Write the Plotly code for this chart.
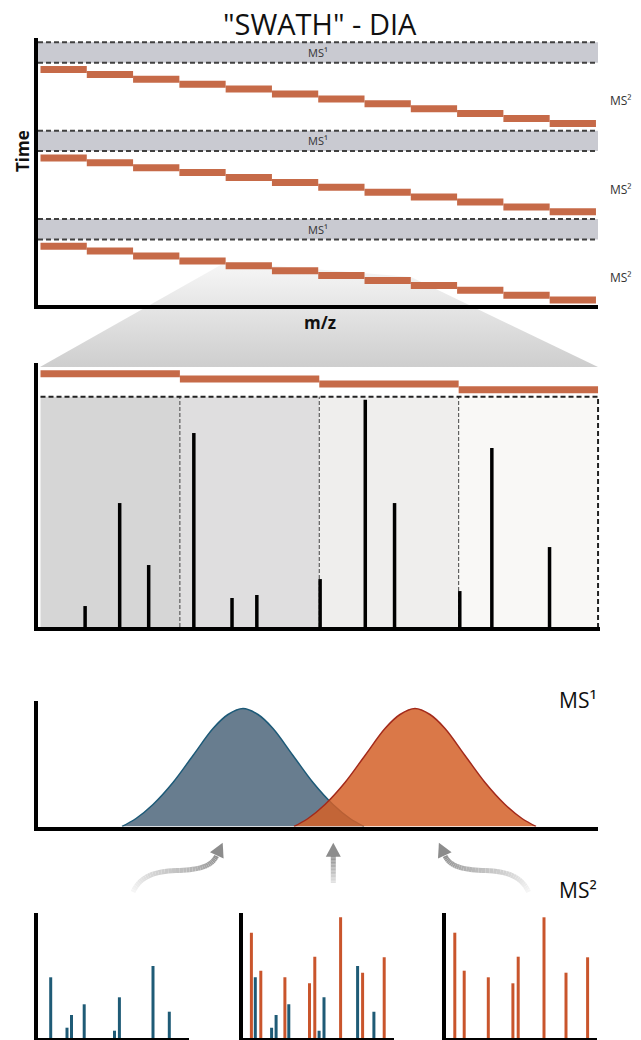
import numpy as np
import plotly.graph_objects as go

W, H = 641, 1040
def fx(px): return px / W
def fy(py): return 1 - py / H

# ---------------- DATA ----------------
# Panel 1: DIA cycle (m/z windows x time)
window_starts = [400, 450, 500, 550, 600, 650, 700, 750, 800, 850, 900, 950]
window_width = 50
cycle_starts = [4.3, 92.7, 181.0]          # MS1 scan start times
ms1_duration = 20.4
ms2_offsets = [27.2, 32.1, 37.0, 41.9, 46.8, 51.7, 56.6, 61.5, 66.4, 71.3, 76.2, 81.1]
ms2_label_offset = 58.5

# Panel 2: zoom on windows 5-8
zoom_windows = [600, 650, 700, 750]
zoom_bar_levels = [109.9, 107.7, 105.5, 103.0]
zoom_window_fill = ['#D6D6D6', '#DFDEDF', '#EFEEED', '#F9F8F6']
frag_mz = [616.0, 628.4, 638.8, 655.0, 668.7, 677.6, 700.3, 716.5, 727.0, 750.4, 761.9, 782.6]
frag_int = [9.1, 53.8, 26.9, 84.2, 12.6, 13.9, 20.8, 98.6, 53.8, 15.6, 77.7, 34.7]

# Panel 3: MS1 elution profiles
blue_rt = [84, 98, 115, 135, 155, 175, 190, 205, 220, 235, 255, 275, 295, 312, 326]
blue_int = [0, 8, 22, 44, 71, 98, 112, 118, 112, 98, 71, 44, 22, 8, 0]
orange_rt = [256, 270, 287, 307, 327, 347, 362, 377, 392, 407, 427, 447, 467, 484, 498]
orange_int = [0, 8, 22, 44, 71, 98, 112, 118, 112, 98, 71, 44, 22, 8, 0]

# Panel 4: MS2 spectra
blue_frag_mz = [12.7, 29.0, 33.5, 46.2, 76.5, 81.4, 115.0, 131.3]
blue_frag_int = [60.7, 10.3, 23.0, 33.7, 7.3, 40.7, 72.0, 26.3]
orange_frag_mz = [8.8, 18.2, 42.3, 66.9, 72.2, 98.0, 120.0, 141.6]
orange_frag_int = [105.3, 67.3, 60.7, 54.7, 81.3, 120.7, 65.3, 80.7]

# ---------------- STYLE ----------------
ORANGE = '#C66A48'
BAND = '#C9CAD1'
DASH = '#404040'
BLUE_FILL = 'rgba(104,125,143,1)'
BLUE_LINE = '#1D5A78'
ORANGE_FILL = 'rgba(212,96,40,0.85)'
ORANGE_LINE = '#A32A1B'
SPEC_BLUE = '#1F5B76'
SPEC_ORANGE = '#C9552C'
FONT = 'Open Sans'

fig = go.Figure()

# ---------------- overlay (decorations) : x / y ----------------
trap_x = [226, 411, 598, 40, 226]
trap_y = [262, 277, 367, 367, 262]
fig.add_trace(go.Scatter(x=trap_x, y=trap_y, xaxis='x', yaxis='y', mode='lines',
                         line=dict(width=0), fill='toself',
                         fillgradient=dict(type='vertical',
                                           colorscale=[[0, '#F7F7F7'], [1, '#CECECE']],
                                           start=262, stop=367),
                         hoverinfo='skip', showlegend=False))

def bez(p0, p1, p2, p3, n=20):
    t = np.linspace(0, 1, n)[:, None]
    p0, p1, p2, p3 = map(np.array, (p0, p1, p2, p3))
    return (1-t)**3*p0 + 3*(1-t)**2*t*p1 + 3*(1-t)*t**2*p2 + t**3*p3

left_path = np.vstack([bez((133, 892), (139, 879), (150, 871.5), (176, 870.5)),
                       bez((176, 870.5), (200, 870), (212, 866), (216.5, 856))[1:]])
right_path = left_path.copy()
right_path[:, 0] = 661.6 - right_path[:, 0]
mid_path = np.column_stack([np.full(20, 333.3), np.linspace(883, 856, 20)])

def draw_shaft(path, c0, c1):
    n = len(path) - 1
    for i in range(n):
        t = i / (n - 1)
        c = int(c0 + (c1 - c0) * t)
        fig.add_trace(go.Scatter(x=path[i:i+2, 0], y=path[i:i+2, 1], xaxis='x', yaxis='y',
                                 mode='lines', line=dict(color=f'rgb({c},{c},{c})', width=5),
                                 hoverinfo='skip', showlegend=False))

def draw_head(tip, ang_deg, length=14, half=7.5):
    a = np.radians(ang_deg)
    d = np.array([np.sin(a), -np.cos(a)])
    p = np.array([np.cos(a), np.sin(a)])
    tip = np.array(tip)
    b = tip - d * length
    pts = [tip, b + p*half, b - p*half, tip]
    fig.add_trace(go.Scatter(x=[q[0] for q in pts], y=[q[1] for q in pts], xaxis='x', yaxis='y',
                             mode='lines', fill='toself', fillcolor='#8C8C8C',
                             line=dict(width=0), hoverinfo='skip', showlegend=False))

draw_shaft(left_path, 245, 145)
draw_shaft(right_path, 245, 145)
draw_shaft(mid_path, 225, 145)
draw_head((222.7, 842.7), 25)
draw_head((661.6 - 222.7, 842.7), -25)
draw_head((333.3, 842.7), 0)

# ---------------- Panel 1 : x2 / y2 ----------------
mz_lo, mz_hi = 397.3, 1002.2
for cs in cycle_starts:
    fig.add_trace(go.Bar(x=[mz_hi - mz_lo], base=[mz_lo], y=[cs + ms1_duration/2], width=ms1_duration,
                         orientation='h', marker=dict(color=BAND, line=dict(width=0)),
                         xaxis='x2', yaxis='y2', hoverinfo='skip', showlegend=False))
    for yy in (cs, cs + ms1_duration):
        fig.add_trace(go.Scatter(x=[mz_lo, mz_hi], y=[yy, yy], mode='lines',
                                 line=dict(color=DASH, width=2, dash='5px,3px'),
                                 xaxis='x2', yaxis='y2', hoverinfo='skip', showlegend=False))
    fig.add_trace(go.Bar(x=[window_width]*len(window_starts), base=window_starts,
                         y=[cs + o for o in ms2_offsets], width=7, orientation='h',
                         marker=dict(color=ORANGE, line=dict(width=0)),
                         xaxis='x2', yaxis='y2', hoverinfo='skip', showlegend=False))
    fig.add_annotation(x=700, y=cs + ms1_duration/2, xref='x2', yref='y2', text='MS¹',
                       xanchor='center', yanchor='middle',
                       showarrow=False, font=dict(family=FONT, size=11, color='#333'))
    fig.add_annotation(x=fx(621), y=cs + ms2_label_offset, xref='paper', yref='y2', text='MS²',
                       xanchor='center', yanchor='middle',
                       showarrow=False, font=dict(family=FONT, size=12, color='#333'))

# ---------------- Panel 2 : x3 / y3 ----------------
fig.add_trace(go.Bar(x=[z + window_width/2 for z in zoom_windows], y=[100]*4, width=window_width,
                     marker=dict(color=zoom_window_fill, line=dict(width=0)),
                     xaxis='x3', yaxis='y3', hoverinfo='skip', showlegend=False))
for z in zoom_windows[1:]:
    fig.add_trace(go.Scatter(x=[z, z], y=[0, 100], mode='lines',
                             line=dict(color='#444', width=1, dash='4px,2px'),
                             xaxis='x3', yaxis='y3', hoverinfo='skip', showlegend=False))
fig.add_trace(go.Scatter(x=[zoom_windows[0], zoom_windows[-1] + window_width, zoom_windows[-1] + window_width],
                         y=[100, 100, 0], mode='lines',
                         line=dict(color='#222', width=2, dash='5px,3px'),
                         xaxis='x3', yaxis='y3', hoverinfo='skip', showlegend=False))
fig.add_trace(go.Bar(x=[window_width]*4, base=zoom_windows, y=zoom_bar_levels, width=3.04,
                     orientation='h', marker=dict(color=ORANGE, line=dict(width=0)),
                     xaxis='x3', yaxis='y3', hoverinfo='skip', showlegend=False))
sx, sy = [], []
for m, h in zip(frag_mz, frag_int):
    sx += [m, m, None]; sy += [0, h, None]
fig.add_trace(go.Scatter(x=sx, y=sy, mode='lines', line=dict(color='black', width=3.5),
                         xaxis='x3', yaxis='y3', hoverinfo='skip', showlegend=False))

# ---------------- Panel 3 : x4 / y4 ----------------
fig.add_trace(go.Scatter(x=blue_rt, y=blue_int, mode='lines', line=dict(color=BLUE_LINE, width=1.5, shape='spline'),
                         fill='tozeroy', fillcolor=BLUE_FILL,
                         xaxis='x4', yaxis='y4', hoverinfo='skip', showlegend=False))
fig.add_trace(go.Scatter(x=orange_rt, y=orange_int, mode='lines', line=dict(color=ORANGE_LINE, width=1.5, shape='spline'),
                         fill='tozeroy', fillcolor=ORANGE_FILL,
                         xaxis='x4', yaxis='y4', hoverinfo='skip', showlegend=False))

# ---------------- Panel 4 : x5..x7 ----------------
def spec(mz, it, color, xa, ya):
    xx, yy = [], []
    for m, h in zip(mz, it):
        xx += [m, m, None]; yy += [0, h, None]
    fig.add_trace(go.Scatter(x=xx, y=yy, mode='lines', line=dict(color=color, width=3),
                             xaxis=xa, yaxis=ya, hoverinfo='skip', showlegend=False))

spec(blue_frag_mz, blue_frag_int, SPEC_BLUE, 'x5', 'y5')
spec(orange_frag_mz, orange_frag_int, SPEC_ORANGE, 'x6', 'y6')
spec(blue_frag_mz, blue_frag_int, SPEC_BLUE, 'x6', 'y6')
spec(orange_frag_mz, orange_frag_int, SPEC_ORANGE, 'x7', 'y7')

# ---------------- Axes ----------------
def ax(**kw):
    d = dict(showgrid=False, zeroline=False, showticklabels=False, ticks='',
             showline=True, linecolor='black', linewidth=4, fixedrange=True)
    d.update(kw)
    return d

layout = dict(
    width=W, height=H, margin=dict(l=0, r=0, t=0, b=0),
    paper_bgcolor='white', plot_bgcolor='rgba(0,0,0,0)', barmode='overlay',
    showlegend=False,
    xaxis=dict(domain=[0, 1], range=[0, W], visible=False, fixedrange=True),
    yaxis=dict(domain=[0, 1], range=[H, 0], visible=False, fixedrange=True),
    xaxis2=ax(domain=[fx(38), fx(598)], range=[mz_lo, mz_hi], anchor='y2'),
    yaxis2=ax(domain=[fy(305), fy(38)], range=[267, 0], anchor='x2'),
    xaxis3=ax(domain=[fx(38), fx(600)], range=[599.1, 800.7], anchor='y3'),
    yaxis3=ax(domain=[fy(627), fy(363)], range=[0, 114.6], anchor='x3'),
    xaxis4=ax(domain=[fx(38), fx(598)], range=[0, 560], anchor='y4'),
    yaxis4=ax(domain=[fy(826.5), fy(700.7)], range=[0, 125.8], anchor='x4'),
    xaxis5=ax(domain=[fx(38), fx(189)], range=[0, 151], anchor='y5'),
    yaxis5=ax(domain=[fy(1038), fy(913)], range=[0, 125], anchor='x5'),
    xaxis6=ax(domain=[fx(242.6), fx(393.6)], range=[0, 151], anchor='y6'),
    yaxis6=ax(domain=[fy(1038), fy(913)], range=[0, 125], anchor='x6'),
    xaxis7=ax(domain=[fx(446), fx(597)], range=[0, 151], anchor='y7'),
    yaxis7=ax(domain=[fy(1038), fy(913)], range=[0, 125], anchor='x7'),
)
fig.update_layout(**layout)

# ---------------- Text ----------------
def label(px, py, text, size, **kw):
    fig.add_annotation(x=fx(px), y=fy(py), xref='paper', yref='paper', text=text,
                       xanchor='center', yanchor='middle', showarrow=False,
                       font=dict(family=FONT, size=size, color='#111'), **kw)

label(320, 23, '"SWATH" - DIA', 29)
label(22, 151, '<b>Time</b>', 17, textangle=-90)
label(320, 322, '<b>m/z</b>', 17)
label(578, 700, 'MS¹', 21)
label(578, 890, 'MS²', 21)

fig.write_html("out.html", config={'displayModeBar': False},
               post_script="document.body.style.margin='0';document.body.style.overflow='hidden';")
